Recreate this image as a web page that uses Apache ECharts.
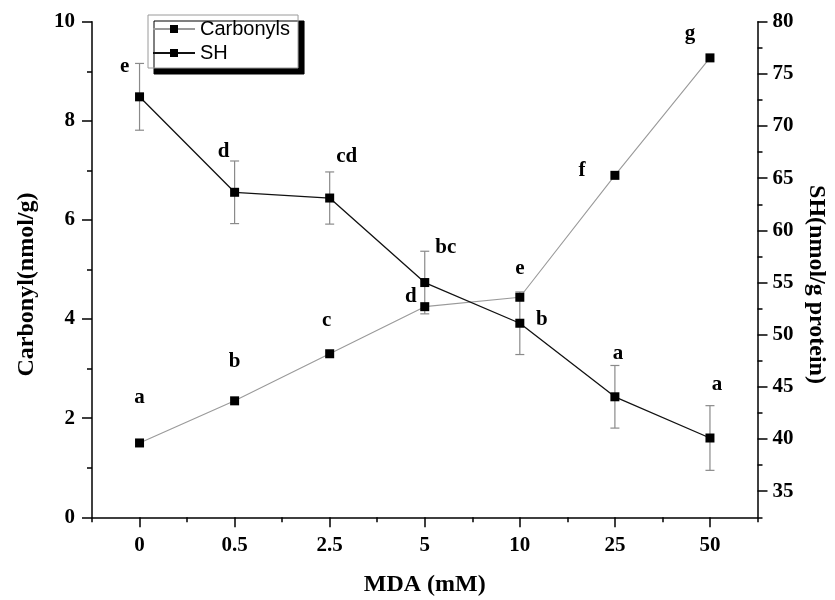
<!DOCTYPE html>
<html><head><meta charset="utf-8">
<script src="https://cdn.jsdelivr.net/npm/echarts@6/dist/echarts.min.js"></script>
<style>html,body{margin:0;padding:0;background:#fff}#c{width:835px;height:600px}</style>
</head><body><div id="c"></div>
<script>
// ---- data ----
const categories = ['0', '0.5', '2.5', '5', '10', '25', '50'];
const carbonyl = [1.5, 2.35, 3.3, 4.25, 4.44, 6.9, 9.27];
const sh = [72.8, 63.65, 63.1, 55.0, 51.1, 44.05, 40.1];
const shErr = [3.2, 3.0, 2.5, 3.0, 3.0, 3.0, 3.1];
const carbonylLetters = ['a', 'b', 'c', 'd', 'e', 'f', 'g'];
const shLetters = ['e', 'd', 'cd', 'bc', 'b', 'a', 'a'];
const leftTicks = [0, 2, 4, 6, 8, 10];
const rightTicks = [35, 40, 45, 50, 55, 60, 65, 70, 75, 80];

// ---- style (label placement) ----
const carbonylLabelOffsets = [[0,-45],[0,-39],[-3,-33],[-14,-10],[0,-29],[-33,-5],[-20,-24]];
const shLabelOffsets = [[-15,-30],[-11,-41],[17,-41],[21,-35],[22,-4],[3,-43],[7,-53]];

const serif = '"Liberation Serif","Times New Roman",serif';
const sans = '"Liberation Sans",Arial,sans-serif';
const axisLineStyle = { color: '#000', width: 1.5 };

function withLabels(values, letters, offsets) {
  return values.map((v, i) => ({
    value: v,
    label: { show: true, formatter: letters[i], position: 'inside', offset: offsets[i] }
  }));
}
const letterStyle = { color: '#000', fontFamily: serif, fontWeight: 'bold', fontSize: 21 };

const chart = echarts.init(document.getElementById('c'), null, { renderer: 'canvas' });
chart.setOption({
  animation: false,
  backgroundColor: '#fff',
  grid: { left: 92, right: 77.5, top: 21.7, bottom: 82.7, containLabel: false, outerBoundsMode: 'none' },
  legend: {
    orient: 'vertical', left: 148, top: 15,
    data: ['Carbonyls', 'SH'],
    itemWidth: 42, itemHeight: 10, itemGap: 4,
    padding: [4, 8, 5, 4],
    borderColor: '#9a9a9a', borderWidth: 1, backgroundColor: '#fff',
    shadowColor: '#000', shadowBlur: 0, shadowOffsetX: 6, shadowOffsetY: 6,
    textStyle: { fontFamily: sans, fontSize: 20, color: '#000' }
  },
  xAxis: [
    {
      type: 'category', data: categories, position: 'bottom', boundaryGap: true,
      name: 'MDA (mM)', nameLocation: 'middle', nameGap: 55,
      nameTextStyle: { fontFamily: serif, fontWeight: 'bold', fontSize: 24, color: '#000' },
      axisLine: { show: true, lineStyle: axisLineStyle },
      axisTick: { show: true, alignWithLabel: true, length: 10, lineStyle: axisLineStyle },
      axisLabel: { margin: 18, fontFamily: serif, fontWeight: 'bold', fontSize: 21, color: '#000' },
      splitLine: { show: false }
    },
    {
      type: 'category', data: categories, position: 'bottom', boundaryGap: true,
      axisLine: { show: false },
      axisTick: { show: true, length: 5, lineStyle: axisLineStyle },
      axisLabel: { show: false },
      splitLine: { show: false }
    }
  ],
  yAxis: [
    {
      type: 'value', position: 'left', min: 0, max: 10, interval: 2,
      name: 'Carbonyl(nmol/g)', nameLocation: 'middle', nameGap: 53,
      nameTextStyle: { fontFamily: serif, fontWeight: 'bold', fontSize: 24, color: '#000', padding: [0, 30, 0, 0] },
      axisLine: { show: true, lineStyle: axisLineStyle },
      axisTick: { show: true, length: 10, lineStyle: axisLineStyle },
      minorTick: { show: true, splitNumber: 2, length: 5, lineStyle: axisLineStyle },
      axisLabel: { margin: 17, fontFamily: serif, fontWeight: 'bold', fontSize: 21, color: '#000',
                   formatter: v => (leftTicks.indexOf(v) >= 0 ? String(v) : '') },
      splitLine: { show: false }, minorSplitLine: { show: false }
    },
    {
      type: 'value', position: 'right', min: 32.5, max: 80, interval: 2.5,
      name: 'SH(nmol/g protein)', nameLocation: 'middle', nameGap: 47, nameRotate: -90,
      nameTextStyle: { fontFamily: serif, fontWeight: 'bold', fontSize: 24, color: '#000', padding: [0, 0, 0, 30] },
      axisLine: { show: true, lineStyle: axisLineStyle },
      axisTick: { show: true, length: 5, lineStyle: axisLineStyle },
      axisLabel: { margin: 15, fontFamily: serif, fontWeight: 'bold', fontSize: 21, color: '#000',
                   formatter: v => (rightTicks.indexOf(v) >= 0 ? String(v) : '') },
      splitLine: { show: false }
    },
    {
      type: 'value', position: 'right', min: 32.5, max: 80, interval: 2.5,
      axisLine: { show: false },
      axisTick: { show: true, length: 10, customValues: rightTicks, lineStyle: axisLineStyle },
      axisLabel: { show: false },
      splitLine: { show: false }
    }
  ],
  series: [
    {
      type: 'custom', name: 'SH error', xAxisIndex: 0, yAxisIndex: 1, z: 1, silent: true,
      encode: { x: 0, y: [1, 2] },
      data: sh.map((v, i) => [i, v - shErr[i], v + shErr[i]]),
      renderItem: function (params, api) {
        const i = api.value(0);
        const p1 = api.coord([i, api.value(1)]);
        const p2 = api.coord([i, api.value(2)]);
        const w = 4.5;
        const style = { stroke: '#8a8a8a', lineWidth: 1.2 };
        return {
          type: 'group', children: [
            { type: 'line', shape: { x1: p1[0], y1: p1[1], x2: p2[0], y2: p2[1] }, style: style },
            { type: 'line', shape: { x1: p1[0] - w, y1: p1[1], x2: p1[0] + w, y2: p1[1] }, style: style },
            { type: 'line', shape: { x1: p2[0] - w, y1: p2[1], x2: p2[0] + w, y2: p2[1] }, style: style }
          ]
        };
      }
    },
    {
      type: 'line', name: 'Carbonyls', xAxisIndex: 0, yAxisIndex: 0, z: 3,
      data: withLabels(carbonyl, carbonylLetters, carbonylLabelOffsets),
      symbol: 'rect', symbolSize: 9,
      itemStyle: { color: '#000' },
      lineStyle: { color: '#9a9a9a', width: 1.1 },
      label: letterStyle
    },
    {
      type: 'line', name: 'SH', xAxisIndex: 0, yAxisIndex: 1, z: 4,
      data: withLabels(sh, shLetters, shLabelOffsets),
      symbol: 'rect', symbolSize: 9,
      itemStyle: { color: '#000' },
      lineStyle: { color: '#111', width: 1.3 },
      label: letterStyle
    }
  ]
});
</script>
</body></html>
